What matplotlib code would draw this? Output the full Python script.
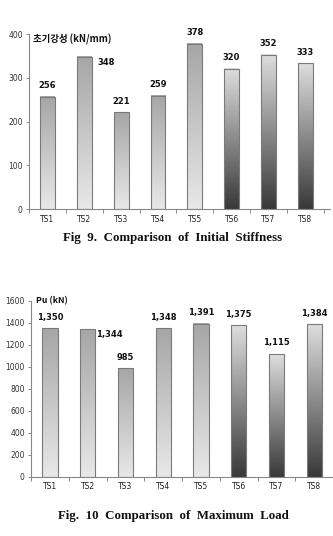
import numpy as np
import matplotlib
matplotlib.use("Agg")
import matplotlib.pyplot as plt
from matplotlib.colors import LinearSegmentedColormap

categories = ["TS1", "TS2", "TS3", "TS4", "TS5", "TS6", "TS7", "TS8"]
stiffness = [256, 348, 221, 259, 378, 320, 352, 333]
stiffness_labels = ["256", "348", "221", "259", "378", "320", "352", "333"]
max_load = [1350, 1344, 985, 1348, 1391, 1375, 1115, 1384]
max_load_labels = ["1,350", "1,344", "985", "1,348", "1,391", "1,375", "1,115", "1,384"]
stiff_ticks = [0, 100, 200, 300, 400]
load_ticks = [0, 200, 400, 600, 800, 1000, 1200, 1400, 1600]

# style: gradient kind per bar (L: gray top -> light bottom, D: light top -> dark bottom)
stiff_kind = ["L", "L", "L", "L", "L", "D", "D", "D"]
load_kind = ["L", "L", "L", "L", "L", "D", "D", "D"]
# label placement: 'r' right of bar, 't' above
stiff_place = ["t", "r", "t", "t", "t", "t", "t", "t"]
load_place = ["t", "r", "t", "t", "t", "t", "t", "t"]

cmapL = LinearSegmentedColormap.from_list("L", ["#e8e8e8", "#a6a6a6"])
cmapD = LinearSegmentedColormap.from_list("D", ["#383838", "#dedede"])

W, H = 333, 536
fig = plt.figure(figsize=(W / 100, H / 100), dpi=100)


def draw(ax_rect, vals, labels, kinds, places, ticks, xr, ylabel, ylab_fs, caption, cap_fs,
         cap_y, lab_x, lab_y):
    ax = fig.add_axes(ax_rect)
    x = np.arange(len(vals))
    w = 0.4
    grad = np.linspace(0, 1, 256).reshape(-1, 1)
    for xi, v, k in zip(x, vals, kinds):
        ax.imshow(grad, cmap=cmapL if k == "L" else cmapD, origin="lower",
                  extent=[xi - w / 2, xi + w / 2, 0, v], aspect="auto", zorder=2,
                  interpolation="bilinear")
    ax.bar(x, vals, width=w, facecolor="none", edgecolor="#7a7a7a", linewidth=0.8, zorder=3)
    ax.set_xlim(-0.5, xr)
    ax.set_ylim(0, ticks[-1])
    ax.set_yticks(ticks)
    ax.set_yticklabels([str(t) for t in ticks], fontsize=5.5, color="#333333")
    ax.set_xticks(x)
    ax.set_xticklabels(categories, fontsize=5.5, color="#222222")
    ax.set_xticks(np.arange(len(vals) + 1) - 0.5, minor=True)
    ax.tick_params(axis="x", which="major", length=0, pad=4)
    ax.tick_params(axis="x", which="minor", length=3, color="#888888", width=0.7)
    ax.tick_params(axis="y", length=2.5, color="#888888", width=0.7, pad=2)
    for s in ["top", "right"]:
        ax.spines[s].set_visible(False)
    for s in ["left", "bottom"]:
        ax.spines[s].set_color("#888888")
        ax.spines[s].set_linewidth(0.8)
    for xi, v, lab, p in zip(x, vals, labels, places):
        if p == "t":
            ax.annotate(lab, (xi, v), xytext=(0, 8), textcoords="offset points",
                        ha="center", va="center", fontsize=6, fontweight="bold",
                        color="#111111", annotation_clip=False)
        else:
            ax.annotate(lab, (xi, v), xytext=(15.5, -4), textcoords="offset points",
                        ha="center", va="center", fontsize=6, fontweight="bold",
                        color="#111111", annotation_clip=False)
    fig.text(lab_x / W, 1 - lab_y / H, ylabel, fontsize=ylab_fs, fontweight="bold",
             family=["Noto Sans CJK KR", "DejaVu Sans"], ha="left", va="center", color="#111111")
    fig.text(173 / W, 1 - cap_y / H, caption, fontsize=cap_fs, fontweight="bold",
             family="Liberation Serif", ha="center", va="center", color="#111111")
    return ax


draw([29.1 / W, 1 - 209.3 / H, 300.9 / W, 175.3 / H], stiffness, stiffness_labels, stiff_kind,
     stiff_place, stiff_ticks, 7.67, "초기강성 (kN/mm)", 6.8,
     "Fig  9.  Comparison  of  Initial  Stiffness", 9.3, 238, 33, 39)

draw([31.1 / W, 1 - 476.7 / H, 302 / W, 176 / H], max_load, max_load_labels, load_kind,
     load_place, load_ticks, 7.4, "Pu (kN)", 6.3,
     "Fig.  10  Comparison  of  Maximum  Load", 9.3, 516, 36, 301)

fig.savefig("out.png", dpi=100)
